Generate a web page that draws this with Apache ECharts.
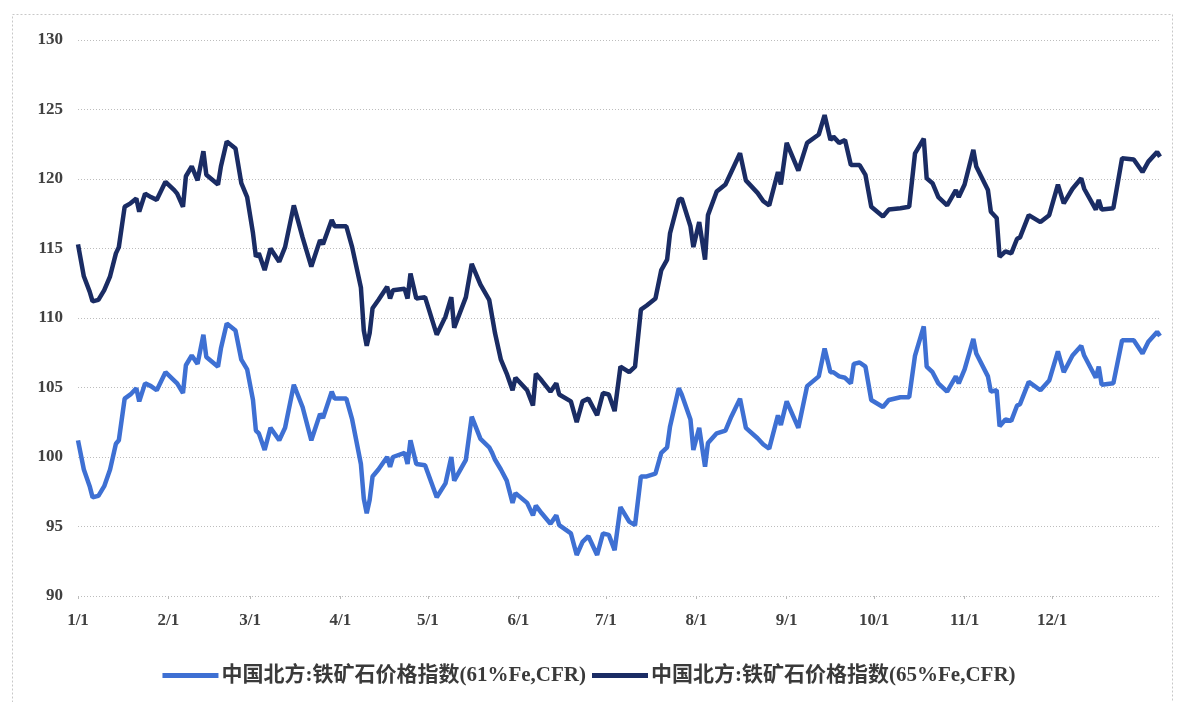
<!DOCTYPE html>
<html>
<head>
<meta charset="utf-8">
<script src="https://cdn.jsdelivr.net/npm/echarts@6/dist/echarts.min.js"></script>
<style>
html,body{margin:0;padding:0;background:#fff;}
#chart{width:1178px;height:702px;}
</style>
</head>
<body>
<div id="chart"></div>
<script>
// Days elapsed since 1/1 for each observation
const days = [0,2,4,5,7,9,11,13,14,16,18,20,21,23,25,27,30,33,34,36,37,39,41,43,44,48,49,51,54,56,58,60,61,62,64,66,69,71,74,77,80,83,84,87,88,92,94,97,98,99,100,101,103,106,107,108,112,113,114,116,119,123,126,128,129,133,135,138,141,142,143,145,147,149,150,154,156,157,159,162,164,165,169,171,173,175,178,180,182,184,186,189,191,193,195,198,200,202,203,206,207,210,211,213,215,216,219,222,224,227,229,233,235,237,240,241,243,247,250,254,256,258,259,261,263,265,266,268,270,272,276,278,282,285,287,290,291,293,295,298,301,302,304,307,308,312,313,315,316,318,320,322,323,326,330,333,336,338,341,344,345,349,350,351,355,358,362,365,367,370,371];

// 中国北方:铁矿石价格指数(65%Fe,CFR)
const idx65 = [115.3,113.0,111.9,111.2,111.3,112.0,113.0,114.65,115.1,118.0,118.25,118.6,117.65,118.95,118.7,118.5,119.8,119.2,118.95,118.0,120.2,120.9,119.9,122.0,120.3,119.6,120.9,122.7,122.2,119.7,118.7,116.1,114.4,114.65,113.45,115.0,114.05,115.1,118.1,115.8,113.7,115.6,115.3,117.05,116.6,116.6,115.1,112.2,109.1,108.0,108.9,110.7,111.3,112.25,111.4,112.0,112.1,111.4,113.2,111.4,111.5,108.8,110.1,111.5,109.3,111.5,113.9,112.4,111.3,110.1,108.9,107.0,106.0,104.8,105.7,104.8,103.7,106.0,105.5,104.7,105.3,104.5,104.0,102.5,104.0,104.2,103.0,104.6,104.5,103.3,106.5,106.1,106.5,110.6,110.9,111.4,113.45,114.2,116.1,118.5,118.6,116.6,115.1,116.9,114.2,117.4,119.1,119.6,120.5,121.85,119.9,119.0,118.4,118.1,120.5,119.6,122.6,120.6,122.6,123.2,124.6,122.8,123.05,122.6,122.8,121.0,121.0,121.0,120.3,118.0,117.3,117.8,117.9,118.0,121.85,122.9,120.05,119.7,118.7,118.1,119.2,118.7,119.6,122.1,120.9,119.2,117.65,117.2,114.4,114.8,114.65,115.7,115.8,117.4,116.9,117.4,119.6,118.25,119.3,120.05,119.3,117.8,118.5,117.8,117.9,121.5,121.4,120.5,121.25,121.95,121.6];

// 中国北方:铁矿石价格指数(61%Fe,CFR)
const idx61 = [101.2,99.1,97.9,97.1,97.2,97.9,99.1,100.95,101.2,104.2,104.5,104.95,104.0,105.3,105.1,104.8,106.1,105.5,105.3,104.6,106.6,107.3,106.7,108.8,107.2,106.5,107.8,109.6,109.1,107.0,106.3,104.1,101.9,101.7,100.5,102.1,101.2,102.1,105.2,103.6,101.2,103.1,102.8,104.7,104.2,104.2,102.7,99.5,97.0,95.95,96.9,98.6,99.1,100.0,99.3,100.0,100.3,99.5,101.2,99.5,99.4,97.1,98.1,100.0,98.3,99.8,102.9,101.3,100.7,100.3,99.8,99.1,98.3,96.7,97.4,96.7,95.8,96.5,95.95,95.2,95.8,95.1,94.5,92.95,93.9,94.3,92.95,94.5,94.4,93.3,96.4,95.35,95.1,98.6,98.6,98.8,100.3,100.7,102.2,104.95,104.5,102.7,100.5,102.1,99.3,101.0,101.7,101.9,102.9,104.2,102.1,101.35,100.9,100.6,103.0,102.3,104.0,102.1,105.1,105.8,107.8,106.1,106.1,105.8,105.7,105.3,106.7,106.8,106.5,104.1,103.6,104.1,104.3,104.3,107.3,109.4,106.5,106.1,105.3,104.7,105.8,105.3,106.3,108.5,107.45,105.8,104.7,104.8,102.2,102.7,102.6,103.7,103.8,105.4,104.8,105.5,107.6,106.1,107.3,108.0,107.3,105.7,106.5,105.2,105.3,108.4,108.4,107.45,108.3,109.0,108.7];

const seriesNames = ['中国北方:铁矿石价格指数(61%Fe,CFR)', '中国北方:铁矿石价格指数(65%Fe,CFR)'];
const yMin = 90, yMax = 130, yStep = 5;
const totalDays = 372;

// calendar day categories
const cats = [];
const start = new Date(Date.UTC(2021, 0, 1));
for (let i = 0; i < totalDays; i++) {
  const d = new Date(start.getTime() + i * 86400000);
  cats.push({m: d.getUTCMonth() + 1, d: d.getUTCDate(), y: d.getUTCFullYear()});
}
const catNames = cats.map(c => c.y + '-' + c.m + '-' + c.d);
const isMonthStart = (i) => cats[i].d === 1 && cats[i].y === 2021;

const chart = echarts.init(document.getElementById('chart'), null, {renderer: 'canvas'});
const serif = '"Liberation Serif", "DejaVu Serif", serif';
chart.setOption({
  backgroundColor: '#ffffff',
  animation: false,
  graphic: [{
    type: 'rect', left: 10, top: 12, silent: true,
    shape: {width: 1160, height: 700},
    style: {fill: 'none', stroke: '#c8c8c8', lineWidth: 1, lineDash: [2, 2]}
  }],
  grid: {left: 78, right: 18, top: 40, bottom: 106, containLabel: false},
  legend: {
    bottom: 11, left: 'center',
    itemWidth: 56, itemHeight: 5, itemGap: 6, icon: 'rect',
    textStyle: {fontFamily: '"Liberation Serif", "Noto Sans CJK SC", serif', fontSize: 21, fontWeight: 'bold', color: '#3a3a3a', padding: [0, 0, 0, -2]},
    data: seriesNames
  },
  xAxis: {
    type: 'category',
    data: catNames,
    boundaryGap: false,
    axisLine: {show: false},
    axisTick: {show: true, length: 3, interval: (i) => isMonthStart(i), lineStyle: {color: '#bbb'}},
    axisLabel: {
      interval: (i) => isMonthStart(i),
      formatter: (v, i) => cats[i].m + '/' + cats[i].d,
      fontFamily: serif, fontWeight: 'bold', fontSize: 17, color: '#404040', margin: 16
    },
    splitLine: {show: false}
  },
  yAxis: {
    type: 'value', min: yMin, max: yMax, interval: yStep,
    axisLine: {show: false}, axisTick: {show: false},
    axisLabel: {fontFamily: serif, fontWeight: 'bold', fontSize: 17, color: '#404040', margin: 15},
    splitLine: {show: true, lineStyle: {color: '#bdbdbd', type: [1, 2], width: 1}}
  },
  series: [
    {
      name: seriesNames[0], type: 'line', showSymbol: false, symbol: 'none',
      data: days.map((d, i) => [d, idx61[i]]),
      lineStyle: {color: '#3e70d3', width: 4.5}, itemStyle: {color: '#3e70d3'}
    },
    {
      name: seriesNames[1], type: 'line', showSymbol: false, symbol: 'none',
      data: days.map((d, i) => [d, idx65[i]]),
      lineStyle: {color: '#1a2c64', width: 4.5}, itemStyle: {color: '#1a2c64'}
    }
  ]
});
</script>
</body>
</html>
